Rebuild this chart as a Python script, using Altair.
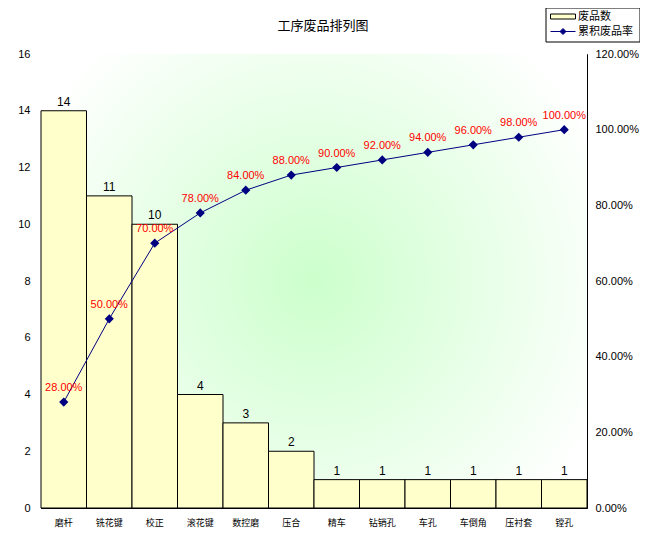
import altair as alt
import pandas as pd

categories = ["磨杆", "铣花键", "校正", "滚花键", "数控磨", "压合", "精车", "钻销孔", "车孔", "车倒角", "压衬套", "镗孔"]
counts = [14, 11, 10, 4, 3, 2, 1, 1, 1, 1, 1, 1]
cum_rate = [0.28, 0.50, 0.70, 0.78, 0.84, 0.88, 0.90, 0.92, 0.94, 0.96, 0.98, 1.00]
count_ticks = [0, 2, 4, 6, 8, 10, 12, 14, 16]
rate_ticks = [0, 0.2, 0.4, 0.6, 0.8, 1.0, 1.2]
bar_series = ["废品数"]
line_series = ["累积废品率"]
title_text = "工序废品排列图"

df = pd.DataFrame({"工序": categories, "废品数": counts, "累积废品率": cum_rate})

W, H = 546, 454
CJK = "Noto Sans CJK SC"
LAT = "Liberation Sans"

RECT_PATH = "M-2.5,-0.5H2.5V0.5H-2.5Z"
LINE_PATH = "M-2.5,0H2.5M0,-0.6L0.6,0L0,0.6L-0.6,0Z"

count_scale = alt.Scale(domain=[0, 16], nice=False)
rate_scale = alt.Scale(domain=[0, 1.2], nice=False)
x_scale = alt.Scale(paddingInner=0, paddingOuter=0)


def x_enc():
    ax = alt.Axis(title=None, labelAngle=0, ticks=False, domainColor="black", labelOverlap=False,
                  labelFont=CJK, labelFontSize=9, labelPadding=10, labelColor="black")
    return alt.X("工序:N", sort=categories, scale=x_scale, axis=ax)


def tick_axis(orient):
    return alt.Axis(orient=orient, offset=-4, ticks=True, tickSize=4, tickColor="black",
                    labels=False, domain=False, grid=False, title=None,
                    values=count_ticks if orient == "left" else rate_ticks)


bg = alt.Chart(alt.Data(values=[{"k": 1}])).mark_rect(
    fill=alt.RadialGradient(
        gradient="radial",
        stops=[alt.GradientStop(color="#CCFFCC", offset=0),
               alt.GradientStop(color="#FFFFFF", offset=1)],
        x1=0.5, y1=0.5, r1=0, x2=0.5, y2=0.5, r2=0.58),
    strokeWidth=0,
).encode(x=alt.value(0), x2=alt.value(W), y=alt.value(0), y2=alt.value(H))

# legend frame (decoration)
frame = alt.Chart(alt.Data(values=[{"k": 1}])).mark_rect(
    fill="white", stroke="black", strokeWidth=1
).encode(x=alt.value(505), x2=alt.value(599), y=alt.value(-46), y2=alt.value(-12))

common_legend = dict(title=None, orient="none", padding=0, labelFont=CJK, labelFontSize=11,
                     labelColor="black", labelOffset=9.5, symbolSize=100, symbolStrokeWidth=1)

bars = alt.Chart(df).transform_calculate(series="'废品数'").mark_bar(
    stroke="black", strokeWidth=1
).encode(
    x=x_enc(),
    y=alt.Y("废品数:Q", scale=count_scale,
            axis=alt.Axis(orient="left", values=count_ticks, ticks=False, grid=False, title=None,
                          domainColor="black", labelFont=LAT, labelFontSize=11,
                          labelPadding=11, labelColor="black")),
    fill=alt.Fill("series:N", scale=alt.Scale(domain=bar_series, range=["#FFFFCC"]),
                  legend=alt.Legend(legendX=516.5, legendY=-43, symbolType=RECT_PATH,
                                    symbolStrokeColor="black", **common_legend)),
)

bar_text = alt.Chart(df).mark_text(dy=-9, font=LAT, fontSize=12, color="black").encode(
    x=x_enc(),
    y=alt.Y("废品数:Q", scale=count_scale, axis=tick_axis("left")),
    text=alt.Text("废品数:Q"),
)

line = alt.Chart(df).transform_calculate(series2="'累积废品率'").mark_line(
    strokeWidth=1,
    point=alt.OverlayMarkDef(shape="diamond", size=40, filled=True, fill="#000080"),
).encode(
    x=x_enc(),
    y=alt.Y("累积废品率:Q", scale=rate_scale,
            axis=alt.Axis(orient="right", values=rate_ticks, format=".2%", ticks=False, grid=False,
                          title=None, domainColor="black", labelFont=LAT, labelFontSize=11,
                          labelPadding=8, labelColor="black")),
    stroke=alt.Stroke("series2:N", scale=alt.Scale(domain=line_series, range=["#000080"]),
                      legend=alt.Legend(legendX=516.5, legendY=-28, symbolType=LINE_PATH,
                                        symbolFillColor="#000080", **common_legend)),
)

line_text = alt.Chart(df).mark_text(dy=-14, font=LAT, fontSize=11, color="#FF0000").encode(
    x=x_enc(),
    y=alt.Y("累积废品率:Q", scale=rate_scale, axis=tick_axis("right")),
    text=alt.Text("累积废品率:Q", format=".2%"),
)

chart = alt.layer(bg, frame, bars, bar_text, line, line_text).resolve_scale(y="independent").properties(
    width=W, height=H,
    autosize=alt.AutoSizeParams(type="none"),
    padding={"left": 33, "top": 46, "right": 53, "bottom": 31},
    title=alt.TitleParams(title_text, font=CJK, fontSize=13, fontWeight="normal", color="black",
                          anchor="middle", frame="group", dx=9, dy=25, offset=0),
).configure_view(stroke="#808080", strokeWidth=1).configure(background="white")

chart.save("out.html", embed_options={"renderer": "svg", "actions": False})
